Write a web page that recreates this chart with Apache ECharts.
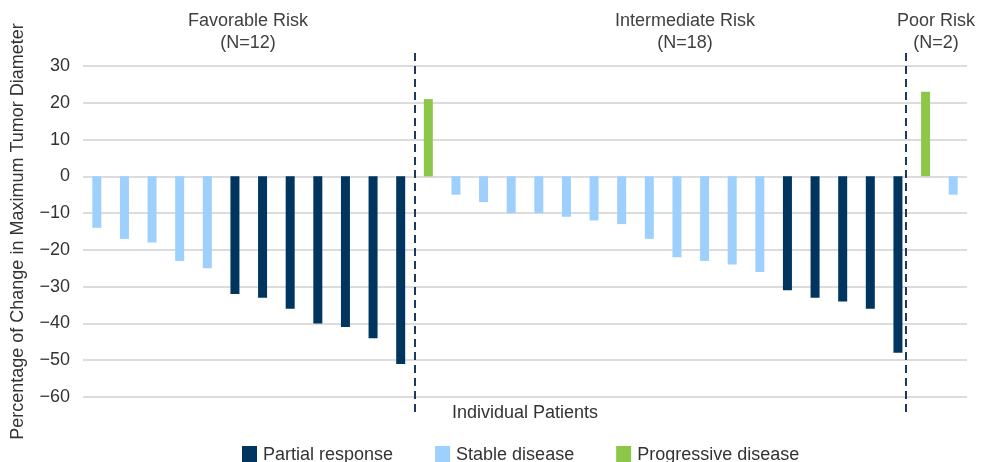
<!DOCTYPE html>
<html><head><meta charset="utf-8">
<script src="https://cdn.jsdelivr.net/npm/echarts@6/dist/echarts.min.js"></script>
<style>html,body{margin:0;padding:0;background:#fff}#c{width:990px;height:462px}</style>
</head><body><div id="c"></div>
<script>
const patients = ['1','2','3','4','5','6','7','8','9','10','11','12','13','14','15','16','17','18','19','20','21','22','23','24','25','26','27','28','29','30','31','32'];
const changeValues = [-14,-17,-18,-23,-25,-32,-33,-36,-40,-41,-44,-51,
  21,-5,-7,-10,-10,-11,-12,-13,-17,-22,-23,-24,-26,-31,-33,-34,-36,-48,
  23,-5];
const responses = ['SD','SD','SD','SD','SD','PR','PR','PR','PR','PR','PR','PR',
  'PD','SD','SD','SD','SD','SD','SD','SD','SD','SD','SD','SD','SD','PR','PR','PR','PR','PR',
  'PD','SD'];
const groupTitles = ['Favorable Risk','Intermediate Risk','Poor Risk'];
const groupCounts = ['(N=12)','(N=18)','(N=2)'];
const groupDividers = [12, 29.8];
const yTicks = {min:-60, max:30, interval:10};
const seriesDefs = [
  {code:'PR', name:'Partial response', color:'#00355f'},
  {code:'SD', name:'Stable disease', color:'#9dd0fc'},
  {code:'PD', name:'Progressive disease', color:'#8dc74a'}
];
const chart = echarts.init(document.getElementById('c'));
const font = 'Liberation Sans, Arial, sans-serif';
const series = seriesDefs.map(d => ({
  type:'bar', name:d.name, stack:'all', barWidth:9, xAxisIndex:0, yAxisIndex:0,
  itemStyle:{color:d.color},
  data: changeValues.map((v,i)=> responses[i]===d.code ? v : null)
}));
series.push({
  type:'line', xAxisIndex:1, yAxisIndex:1, data:[], silent:true,
  markLine:{symbol:'none', silent:true, label:{show:false},
    lineStyle:{color:'#1d3a5e', width:2, type:[8,5]},
    data: groupDividers.map(x=>({xAxis:x}))}
});
const labelX = [248, 685, 936];
const graphics = [];
groupTitles.forEach((t,i)=>{
  graphics.push({type:'text', x:labelX[i], y:12, style:{text:t, textAlign:'center', textVerticalAlign:'top', align:'center', verticalAlign:'top', font:'18px '+font, fill:'#404040'}});
  graphics.push({type:'text', x:labelX[i], y:34, style:{text:groupCounts[i], textAlign:'center', textVerticalAlign:'top', align:'center', verticalAlign:'top', font:'18px '+font, fill:'#404040'}});
});
chart.setOption({
  animation:false,
  textStyle:{fontFamily:font},
  graphic: graphics,
  grid:[
    {left:83, right:23, top:66, bottom:65, outerBoundsMode:'none', containLabel:false},
    {left:83, right:23, top:48, bottom:50, outerBoundsMode:'none', containLabel:false}
  ],
  legend:{
    data: seriesDefs.map(d=>d.name), top:441, left:237,
    icon:'rect', itemWidth:15, itemHeight:18, itemGap:42,
    textStyle:{fontSize:18, color:'#333', fontFamily:font, padding:[0,0,0,1]}
  },
  xAxis:[
    {type:'category', gridIndex:0, data:patients,
     axisLine:{show:false, onZero:false}, axisTick:{show:false}, axisLabel:{show:false},
     name:'Individual Patients', nameLocation:'middle', nameGap:7,
     nameTextStyle:{fontSize:18, color:'#333', fontFamily:font, verticalAlign:'top'}},
    {type:'value', gridIndex:1, min:0, max:32, show:false}
  ],
  yAxis:[
    {type:'value', gridIndex:0, min:yTicks.min, max:yTicks.max, interval:yTicks.interval,
     axisLine:{show:false}, axisTick:{show:false},
     splitLine:{lineStyle:{color:'#dcdcdc', width:2}},
     axisLabel:{fontSize:18, color:'#333', margin:13, fontFamily:font,
       formatter: v => v<0 ? '\u2212'+Math.abs(v) : String(v)},
     name:'Percentage of Change in Maximum Tumor Diameter', nameLocation:'middle', nameGap:56,
     nameTextStyle:{fontSize:18, color:'#333', fontFamily:font}},
    {type:'value', gridIndex:1, min:0, max:1, show:false}
  ],
  series: series
});
</script></body></html>
